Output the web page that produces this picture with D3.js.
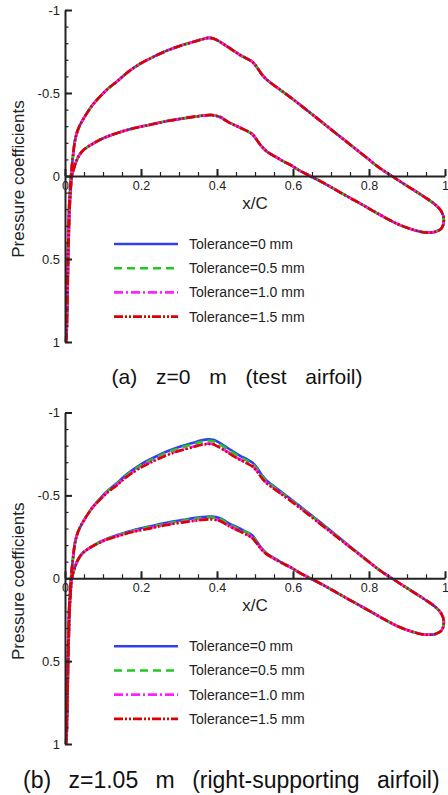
<!DOCTYPE html>
<html>
<head>
<meta charset="utf-8">
<script src="https://cdn.jsdelivr.net/npm/d3@7"></script>
<style>
  body { margin: 0; background: #fff; }
  svg { display: block; }
  .axis path, .axis line { stroke: #222; }
  .axis text { font-family: "Liberation Sans", Arial, sans-serif; fill: #222; }
</style>
</head>
<body>
<div id="chart"></div>
<script>
// x/C positions going round the airfoil (upper surface, trailing edge, lower surface)
var xLoop = [0.003,0.005,0.007,0.009,0.011,0.014,0.017,0.021,0.026,0.032,
  0.039,0.05,0.061,0.075,0.092,0.11,0.136,0.165,0.197,0.23,
  0.268,0.30,0.338,0.36,0.377,0.39,0.40,0.417,0.44,0.46,
  0.48,0.493,0.505,0.518,0.531,0.56,0.60,0.65,0.706,0.75,
  0.794,0.83,0.86,0.89,0.917,0.945,0.974,0.99,0.997,0.991,
  0.975,0.952,0.93,0.90,0.873,0.83,0.794,0.75,0.706,0.675,
  0.645,0.62,0.592,0.575,0.557,0.531,0.515,0.504,0.493,0.48,
  0.46,0.43,0.408,0.386,0.35,0.311,0.26,0.224,0.18,0.136,
  0.10,0.075,0.06,0.048,0.038,0.031,0.026,0.022,0.018,0.015,
  0.012,0.01,0.008,0.006,0.004];

// (a) z=0 m : the four tolerances lie on top of each other
var cpA = [1.00,0.80,0.55,0.35,0.18,0.06,-0.03,-0.12,-0.21,-0.265,
  -0.305,-0.35,-0.39,-0.435,-0.478,-0.52,-0.568,-0.625,-0.675,-0.715,
  -0.755,-0.782,-0.808,-0.823,-0.832,-0.829,-0.818,-0.795,-0.76,-0.73,
  -0.705,-0.688,-0.655,-0.612,-0.58,-0.53,-0.462,-0.372,-0.27,-0.19,
  -0.11,-0.045,0.0,0.045,0.084,0.125,0.172,0.212,0.262,0.315,
  0.336,0.341,0.333,0.312,0.287,0.235,0.188,0.132,0.075,0.035,
  0.0,-0.03,-0.068,-0.088,-0.112,-0.148,-0.185,-0.22,-0.252,-0.27,
  -0.292,-0.325,-0.355,-0.367,-0.36,-0.347,-0.327,-0.309,-0.287,-0.258,
  -0.227,-0.197,-0.176,-0.155,-0.127,-0.096,-0.065,-0.036,0.0,0.08,
  0.2,0.35,0.55,0.8,0.98];

// (b) z=1.05 m
var cpB0 = [1.00,0.80,0.55,0.35,0.18,0.06,-0.03,-0.12,-0.21,-0.265,
  -0.305,-0.35,-0.39,-0.435,-0.48,-0.523,-0.573,-0.632,-0.683,-0.724,
  -0.765,-0.792,-0.818,-0.832,-0.838,-0.836,-0.826,-0.802,-0.768,-0.74,
  -0.716,-0.698,-0.668,-0.622,-0.588,-0.537,-0.468,-0.377,-0.274,-0.192,
  -0.11,-0.045,0.0,0.045,0.084,0.125,0.172,0.212,0.262,0.315,
  0.336,0.341,0.333,0.312,0.287,0.235,0.188,0.132,0.075,0.035,
  0.0,-0.03,-0.068,-0.088,-0.113,-0.15,-0.188,-0.225,-0.258,-0.277,
  -0.3,-0.333,-0.362,-0.372,-0.366,-0.352,-0.332,-0.313,-0.29,-0.26,
  -0.228,-0.197,-0.176,-0.155,-0.127,-0.096,-0.065,-0.036,0.0,0.08,
  0.2,0.35,0.55,0.8,0.98];
var cpB05 = [1.00,0.80,0.55,0.35,0.18,0.06,-0.03,-0.12,-0.21,-0.265,
  -0.305,-0.35,-0.39,-0.435,-0.478,-0.52,-0.568,-0.626,-0.677,-0.717,
  -0.758,-0.785,-0.81,-0.824,-0.829,-0.827,-0.817,-0.794,-0.76,-0.732,
  -0.708,-0.69,-0.66,-0.616,-0.583,-0.532,-0.464,-0.374,-0.271,-0.19,
  -0.11,-0.045,0.0,0.045,0.084,0.125,0.172,0.212,0.262,0.315,
  0.336,0.341,0.333,0.312,0.287,0.235,0.188,0.132,0.075,0.035,
  0.0,-0.03,-0.068,-0.088,-0.112,-0.148,-0.182,-0.215,-0.258,-0.273,
  -0.294,-0.327,-0.357,-0.366,-0.36,-0.347,-0.327,-0.309,-0.287,-0.258,
  -0.227,-0.197,-0.176,-0.155,-0.127,-0.096,-0.065,-0.036,0.0,0.08,
  0.2,0.35,0.55,0.8,0.98];
var cpB10 = [1.00,0.80,0.55,0.35,0.18,0.06,-0.03,-0.12,-0.21,-0.265,
  -0.305,-0.35,-0.39,-0.434,-0.475,-0.515,-0.562,-0.618,-0.667,-0.706,
  -0.745,-0.771,-0.795,-0.808,-0.812,-0.81,-0.8,-0.778,-0.745,-0.718,
  -0.695,-0.678,-0.648,-0.606,-0.574,-0.525,-0.458,-0.368,-0.267,-0.188,
  -0.109,-0.045,0.0,0.045,0.084,0.125,0.172,0.212,0.262,0.315,
  0.336,0.341,0.333,0.312,0.287,0.235,0.188,0.132,0.075,0.035,
  0.0,-0.03,-0.068,-0.087,-0.11,-0.145,-0.18,-0.213,-0.244,-0.262,
  -0.285,-0.318,-0.347,-0.357,-0.351,-0.339,-0.32,-0.303,-0.282,-0.254,
  -0.225,-0.196,-0.176,-0.155,-0.127,-0.096,-0.065,-0.036,0.0,0.08,
  0.2,0.35,0.55,0.8,0.98];
var cpB15 = [1.00,0.80,0.55,0.35,0.18,0.06,-0.03,-0.12,-0.21,-0.265,
  -0.305,-0.35,-0.39,-0.434,-0.474,-0.514,-0.56,-0.616,-0.664,-0.703,
  -0.742,-0.768,-0.792,-0.805,-0.81,-0.808,-0.797,-0.775,-0.742,-0.715,
  -0.692,-0.675,-0.645,-0.604,-0.572,-0.523,-0.456,-0.367,-0.266,-0.187,
  -0.109,-0.045,0.0,0.045,0.084,0.125,0.172,0.212,0.262,0.315,
  0.336,0.341,0.333,0.312,0.287,0.235,0.188,0.132,0.075,0.035,
  0.0,-0.03,-0.068,-0.087,-0.11,-0.144,-0.179,-0.212,-0.242,-0.26,
  -0.283,-0.316,-0.345,-0.355,-0.349,-0.337,-0.318,-0.301,-0.28,-0.252,
  -0.224,-0.196,-0.176,-0.155,-0.127,-0.096,-0.065,-0.036,0.0,0.08,
  0.2,0.35,0.55,0.8,0.98];

var seriesNames = ["Tolerance=0 mm", "Tolerance=0.5 mm", "Tolerance=1.0 mm", "Tolerance=1.5 mm"];
var seriesColors = ["#3040f0", "#22c822", "#ff20ff", "#dd0000"];
var seriesDash = [null, "8,5", "9,3,2,3", "9,2,2,2,2,2"];

var xTicks = [0, 0.2, 0.4, 0.6, 0.8, 1];
var xTickLabels = ["0", "0.2", "0.4", "0.6", "0.8", "1"];
var yTicks = [-1, -0.5, 0, 0.5, 1];
var yTickLabels = ["-1", "-0.5", "0", "0.5", "1"];

var width = 448, height = 795;

var svg = d3.select("#chart").append("svg")
    .attr("width", width)
    .attr("height", height);

var x = d3.scaleLinear().domain([0, 1]).range([65, 445]);

var line = d3.line()
    .curve(d3.curveCatmullRom.alpha(0.5));

function drawPanel(top, bottom, cps) {
  var y = d3.scaleLinear().domain([-1, 1]).range([top, bottom]);
  var g = svg.append("g");

  line.x(function(d) { return x(d[0]); })
      .y(function(d) { return y(d[1]); });

  // curves, blue first and red last
  cps.forEach(function(cp, i) {
    var pts = xLoop.map(function(v, k) { return [v, cp[k]]; });
    g.append("path")
        .datum(pts)
        .attr("d", line)
        .attr("fill", "none")
        .attr("stroke", seriesColors[i])
        .attr("stroke-width", 2.6)
        .attr("stroke-dasharray", seriesDash[i]);
  });

  // minor ticks
  g.append("g")
      .attr("class", "axis")
      .attr("transform", "translate(" + x(0) + ",0)")
      .call(d3.axisLeft(y).tickValues(d3.range(-10, 11).map(function(d) { return d / 10; }))
        .tickSizeInner(-3.5).tickSizeOuter(0).tickFormat(""))
      .call(function(s) { s.select(".domain").remove(); })
      .selectAll("line").attr("stroke-width", 1.2);
  g.append("g")
      .attr("class", "axis")
      .attr("transform", "translate(0," + y(0) + ")")
      .call(d3.axisBottom(x).tickValues(d3.range(0, 21).map(function(d) { return d / 20; }))
        .tickSizeInner(-4).tickSizeOuter(0).tickFormat(""))
      .call(function(s) { s.select(".domain").remove(); })
      .selectAll("line").attr("stroke-width", 1.2);

  // Add the Y Axis
  var ya = g.append("g")
      .attr("class", "axis")
      .attr("transform", "translate(" + x(0) + ",0)")
      .call(d3.axisLeft(y).tickValues(yTicks)
        .tickFormat(function(d, i) { return yTickLabels[i]; })
        .tickSizeInner(-7).tickSizeOuter(0).tickPadding(5));
  ya.select(".domain").attr("stroke-width", 2);
  ya.selectAll("line").attr("stroke-width", 2);
  ya.selectAll("text").style("font-size", "13px");

  // Add the X Axis
  var xa = g.append("g")
      .attr("class", "axis")
      .attr("transform", "translate(0," + y(0) + ")")
      .call(d3.axisBottom(x).tickValues(xTicks)
        .tickFormat(function(d, i) { return xTickLabels[i]; })
        .tickSizeInner(-7).tickSizeOuter(0).tickPadding(5));
  xa.select(".domain").attr("stroke-width", 2);
  xa.selectAll("line").attr("stroke-width", 2);
  xa.selectAll("text").style("font-size", "12.5px");

  g.append("text")
      .attr("x", x(0.5))
      .attr("y", y(0) + 33)
      .attr("text-anchor", "middle")
      .style("font-family", "Liberation Sans, Arial, sans-serif")
      .style("font-size", "17px")
      .attr("fill", "#222")
      .text("x/C");

  g.append("text")
      .attr("transform", "translate(24," + (y(0) + 3) + ") rotate(-90)")
      .attr("text-anchor", "middle")
      .style("font-family", "Liberation Sans, Arial, sans-serif")
      .style("font-size", "17px")
      .attr("fill", "#222")
      .text("Pressure coefficients");

  // legend
  seriesNames.forEach(function(name, i) {
    var ly = y(0) + 68 + i * 24.2;
    g.append("line")
        .attr("x1", 114).attr("x2", 178)
        .attr("y1", ly).attr("y2", ly)
        .attr("stroke", seriesColors[i])
        .attr("stroke-width", 2.6)
        .attr("stroke-dasharray", seriesDash[i]);
    g.append("text")
        .attr("x", 189)
        .attr("y", ly + 5)
        .style("font-family", "Liberation Sans, Arial, sans-serif")
        .style("font-size", "14px")
        .attr("fill", "#222")
        .text(name);
  });
}

drawPanel(10, 342, [cpA, cpA, cpA, cpA]);
drawPanel(412.5, 744, [cpB0, cpB05, cpB10, cpB15]);

// captions
svg.append("text")
    .attr("x", 237)
    .attr("y", 384)
    .attr("text-anchor", "middle")
    .style("font-family", "Liberation Sans, Arial, sans-serif")
    .style("font-size", "21px")
    .style("word-spacing", "13px")
    .attr("fill", "#111")
    .text("(a) z=0 m (test airfoil)");

svg.append("text")
    .attr("x", 23)
    .attr("y", 788)
    .style("font-family", "Liberation Sans, Arial, sans-serif")
    .style("font-size", "23px")
    .style("word-spacing", "11px")
    .attr("fill", "#111")
    .text("(b) z=1.05 m (right-supporting airfoil)");
</script>
</body>
</html>
